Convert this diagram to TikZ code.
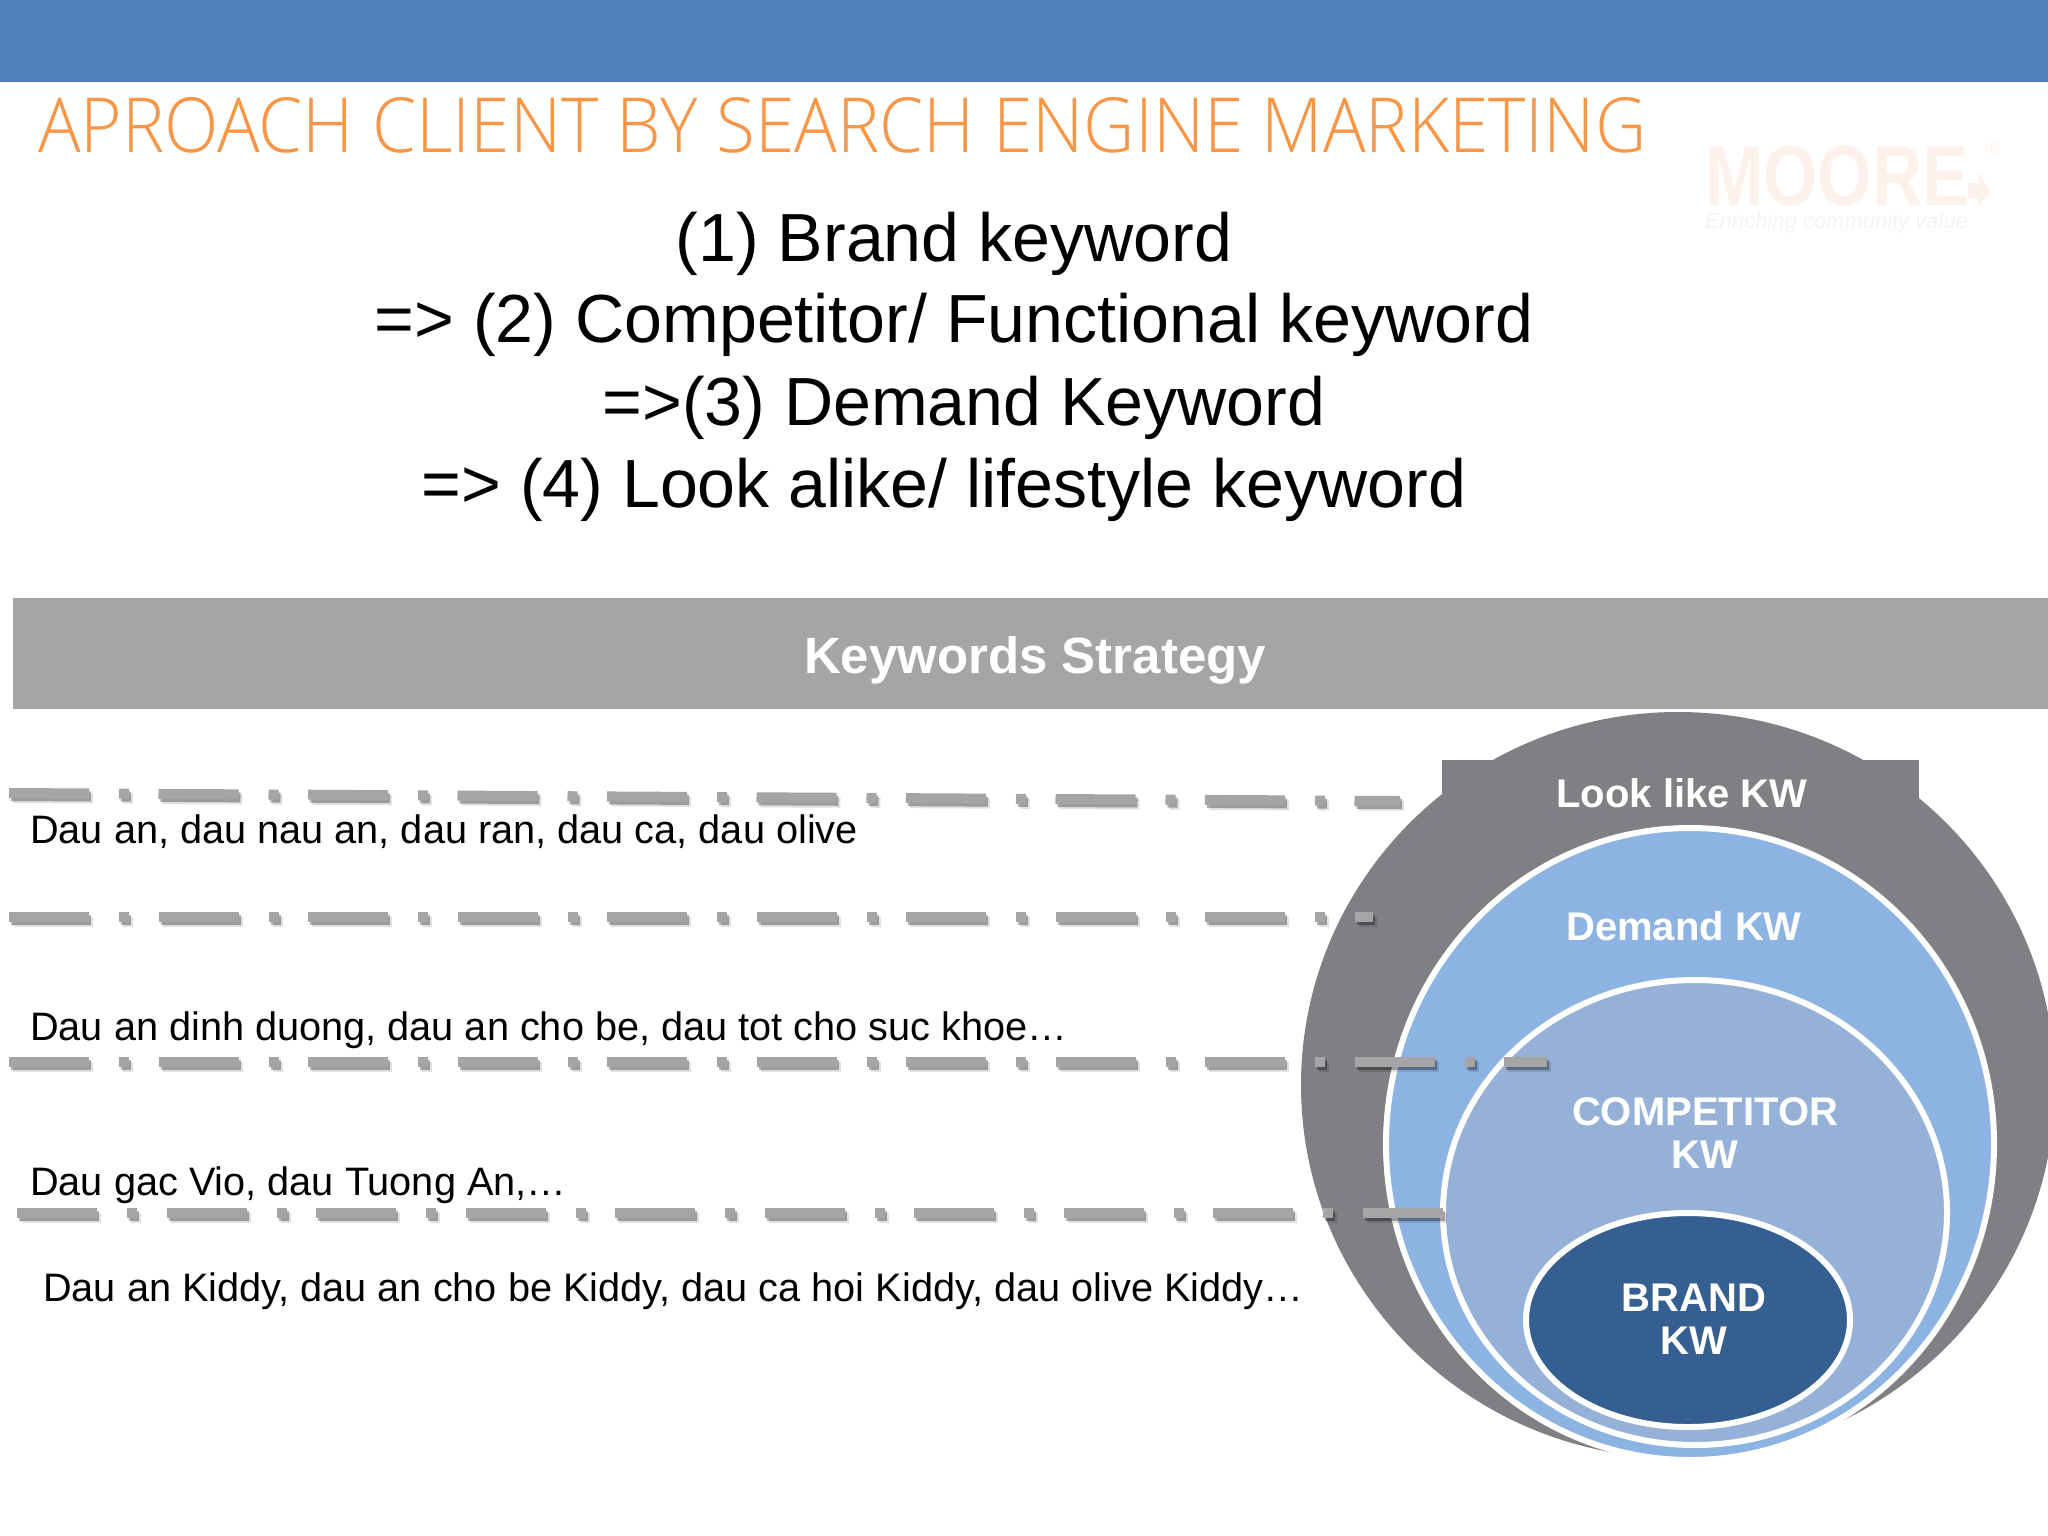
\documentclass[tikz,border=0pt]{standalone}
\usepackage{fontspec}
\setmainfont{Liberation Sans}
\newfontfamily\titlefont{Open Sans Light}
\usetikzlibrary{shapes.geometric}
\definecolor{barblue}{HTML}{4F81BD}
\definecolor{titleorange}{HTML}{F79646}
\definecolor{bandgrey}{HTML}{A5A4A7}
\definecolor{ringgrey}{HTML}{807F83}
\definecolor{demandblue}{HTML}{8DB3E2}
\definecolor{compblue}{HTML}{95B1D7}
\definecolor{brandblue}{HTML}{365F91}
\definecolor{logotint}{HTML}{FDF2EB}
\definecolor{tagtint}{HTML}{F4F4F4}
\tikzset{%
  headline/.style = {inner sep=0pt,anchor=base,font=\fontsize{68.1}{82}\selectfont},
  kwtext/.style = {inner sep=0pt,anchor=base west,font=\fontsize{39.7}{46}\selectfont},
  kwlabel/.style = {inner sep=0pt,text=white,font=\bfseries\fontsize{40}{43}\selectfont},
  ring/.style = {ellipse,draw=white,line width=6pt,inner sep=0pt},
  kwdash/.style = {line width=10pt,
        dash pattern=on 80pt off 30pt on 10pt off 29.5pt},
  kwline/.style = {kwdash,bandgrey,
        preaction={kwdash,draw=black,draw opacity=0.12,transform canvas={shift={(4pt,-5pt)}}},
        preaction={kwdash,draw=black,draw opacity=0.3,transform canvas={shift={(2pt,-3pt)}}}}
}
\begin{document}
\begin{tikzpicture}[x=1pt,y=-1pt,
every text node part/.style={align=center}
]
\useasboundingbox (0,0) rectangle (2048,1536);
\fill[barblue] (0,0) rectangle (2048,82);
\node[inner sep=0pt,anchor=base west,text=titleorange,font=\titlefont\fontsize{76}{80}\selectfont] (title) at (38,153) {\scalebox{0.935}[1]{APROACH CLIENT BY SEARCH ENGINE MARKETING}};
% logo
\node[inner sep=0pt,anchor=base west,text=logotint,font=\bfseries\fontsize{70}{70}\selectfont] (logo) at (1705,205) {\scalebox{1}[1.22]{MOORE}};
\fill[logotint] (1968,183) -- (1978,183) -- (1978,172) -- (1990,192) -- (1978,207) -- (1978,198) -- (1968,198) -- cycle;
\node[inner sep=0pt,text=logotint,font=\fontsize{18}{18}\selectfont] (logoreg) at (1993,148) {\textregistered};
\node[inner sep=0pt,anchor=base west,text=tagtint,font=\itshape\fontsize{22}{22}\selectfont] (logotag) at (1705,228) {Enriching community value};
% four steps
\node[headline] (stepa) at (954,261) {(1) Brand keyword};
\node[headline] (stepb) at (954,342) {=> (2) Competitor/ Functional keyword};
\node[headline] (stepc) at (964,425) {=>(3) Demand Keyword};
\node[headline] (stepd) at (944,507) {=> (4) Look alike/ lifestyle keyword};
% band
\fill[bandgrey] (13,598) rectangle (2048,709);
\node[kwlabel,font=\bfseries\fontsize{51}{51}\selectfont] (band) at (1035,660) {Keywords Strategy};
% circles
\node[ellipse,fill=ringgrey,inner sep=0pt,minimum width=754pt,minimum height=746pt] (looklike) at (1678,1085) {};
\fill[ringgrey] (1442,760) rectangle (1919,805);
\node[ring,fill=demandblue,minimum width=608pt,minimum height=632pt] (demand) at (1690,1144) {};
\node[ring,fill=compblue,minimum width=504pt,minimum height=465pt] (comp) at (1695,1212.5) {};
\node[ring,fill=brandblue,minimum width=324pt,minimum height=214pt] (brand) at (1688,1320) {};
\node[kwlabel] (looklabel) at (1682,793) {Look like KW};
\node[kwlabel] (demandlabel) at (1684,926) {Demand KW};
\node[kwlabel] (complabel) at (1705,1133) {COMPETITOR\\KW};
\node[kwlabel] (brandlabel) at (1694,1319) {BRAND\\KW};
% dashed rows
\coordinate (rowa) at (9,793);
\coordinate (rowaend) at (1400,801);
\coordinate (rowb) at (9,917);
\coordinate (rowbend) at (1373,917);
\coordinate (rowc) at (9,1062);
\coordinate (rowcend) at (1547,1062);
\coordinate (rowd) at (17,1213);
\coordinate (rowdend) at (1444,1213);
\draw[kwline] (rowa) -- (rowaend);
\draw[kwline] (rowb) -- (rowbend);
\draw[kwline] (rowc) -- (rowcend);
\draw[kwline] (rowd) -- (rowdend);
% keyword lists
\node[kwtext] (lista) at (30,843) {Dau an, dau nau an, dau ran, dau ca, dau olive};
\node[kwtext] (listb) at (30,1040) {Dau an dinh duong, dau an cho be, dau tot cho suc khoe…};
\node[kwtext] (listc) at (30,1195) {Dau gac Vio, dau Tuong An,…};
\node[kwtext] (listd) at (43,1301) {Dau an Kiddy, dau an cho be Kiddy, dau ca hoi Kiddy, dau olive Kiddy…};
\end{tikzpicture}
\end{document}
